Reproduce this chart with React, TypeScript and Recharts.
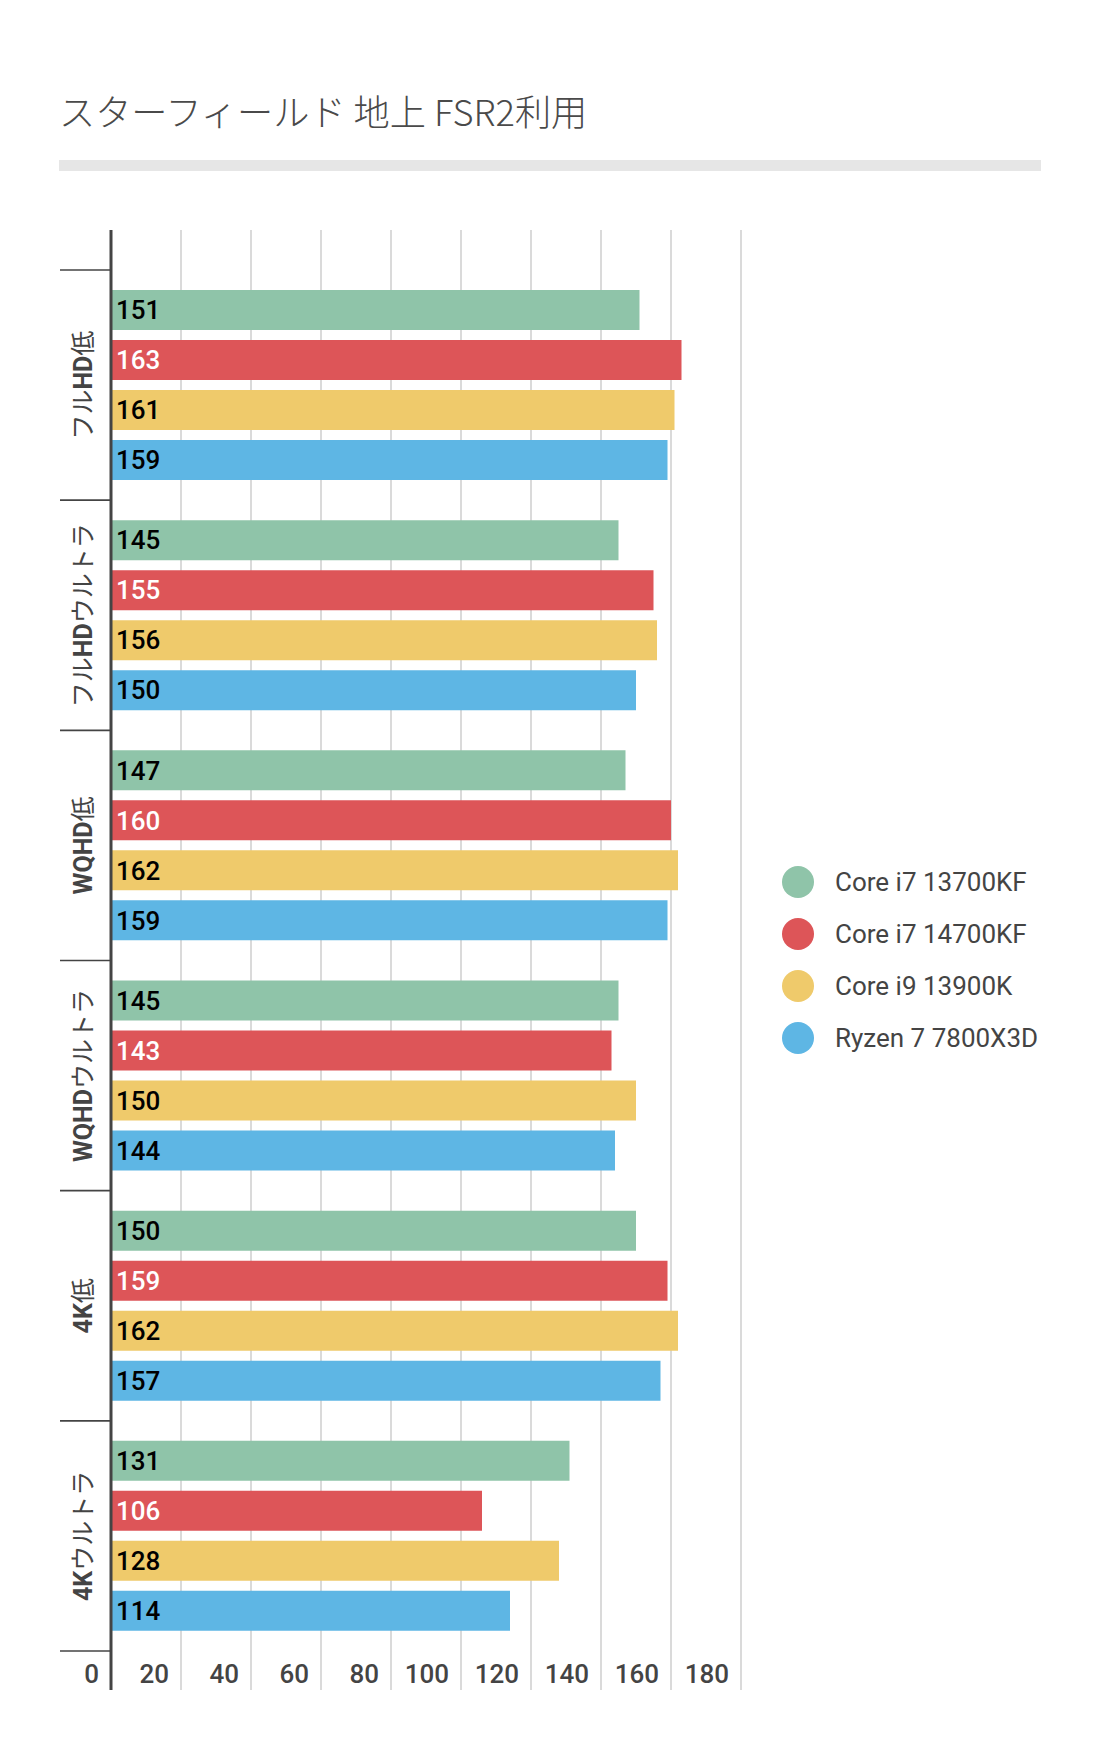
import React from 'react';
import { BarChart, Bar, XAxis, YAxis, CartesianGrid, Legend, LabelList } from 'recharts';

const title = 'スターフィールド 地上 FSR2利用';
const categories = ['フルHD低', 'フルHDウルトラ', 'WQHD低', 'WQHDウルトラ', '4K低', '4Kウルトラ'];
const seriesNames = ['Core i7 13700KF', 'Core i7 14700KF', 'Core i9 13900K', 'Ryzen 7 7800X3D'];
const i7_13700KF = [151, 145, 147, 145, 150, 131];
const i7_14700KF = [163, 155, 160, 143, 159, 106];
const i9_13900K = [161, 156, 162, 150, 162, 128];
const r7_7800X3D = [159, 150, 159, 144, 157, 114];
const xTicks = [0, 20, 40, 60, 80, 100, 120, 140, 160, 180];

const colors = ['#8FC4A9', '#DD5558', '#EFCA6B', '#5EB6E4'];
const labelColors = ['#000000', '#FFFFFF', '#000000', '#000000'];
const seriesKeys = ['s0', 's1', 's2', 's3'];
const seriesValues = [i7_13700KF, i7_14700KF, i9_13900K, r7_7800X3D];

const data = categories.map((name, i) => {
  const row: any = { name };
  seriesKeys.forEach((k, j) => {
    row[k] = seriesValues[j][i];
  });
  return row;
});

const LATIN = 'Roboto, "Noto Sans CJK JP", sans-serif';

function splitRuns(s: string) {
  const runs: { text: string; latin: boolean }[] = [];
  const re = /[A-Za-z0-9]+|[^A-Za-z0-9]+/g;
  let m: RegExpExecArray | null;
  while ((m = re.exec(s)) !== null) {
    runs.push({ text: m[0], latin: /^[A-Za-z0-9]/.test(m[0]) });
  }
  return runs;
}

const CategoryTick = (props: any) => {
  const { x, y, payload, index } = props;
  const off = payload && payload.offset != null ? payload.offset : 0;
  const bx = x - 19;
  const runs = splitRuns(String(payload.value));
  return (
    <g>
      <line x1={x - 51} x2={x} y1={y - off} y2={y - off} stroke="#444" strokeWidth={1.6} />
      {index === categories.length - 1 && (
        <line x1={x - 51} x2={x} y1={y + off} y2={y + off} stroke="#444" strokeWidth={1.6} />
      )}
      <text
        x={bx}
        y={y}
        transform={`rotate(-90 ${bx} ${y})`}
        textAnchor="middle"
        fontSize={25}
        fill="#444"
        fontFamily={LATIN}
      >
        {runs.map((r, i) => (
          <tspan key={i} fontWeight={r.latin ? 700 : 400}>
            {r.text}
          </tspan>
        ))}
      </text>
    </g>
  );
};

const ValueTick = (props: any) => {
  const { x, y, payload } = props;
  return (
    <text x={Number(x) - 12} y={Number(y) - 7} textAnchor="end" fontSize={26} fill="#444" fontFamily={LATIN} fontWeight={500}>
      {payload.value}
    </text>
  );
};

const makeLabel = (color: string) => (props: any) => {
  const { x, y, height, value } = props;
  return (
    <text x={Number(x) + 5} y={Number(y) + Number(height) / 2 + 9.2} fontSize={26} fill={color} fontFamily={LATIN} fontWeight={500}>
      {value}
    </text>
  );
};

const LegendContent = () => (
  <svg width={330} height={210} style={{ display: 'block' }}>
    {seriesNames.map((n, i) => (
      <g key={n}>
        <circle cx={28} cy={26 + i * 52} r={16} fill={colors[i]} />
        <text x={65} y={26 + i * 52 + 8.8} fontSize={26} fill="#444" fontFamily={LATIN}>
          {n}
        </text>
      </g>
    ))}
  </svg>
);

export default function App() {
  return (
    <div style={{ position: 'absolute', left: 0, top: 0, width: 1100, height: 1758, background: '#fff' }}>
      <svg width={1100} height={200} style={{ position: 'absolute', left: 0, top: 0 }}>
        <text x={59} y={126} fontSize={36.2} fill="#4a4a4a" fontFamily='"Noto Sans CJK JP", Roboto, sans-serif' fontWeight={300}>
          {title}
        </text>
        <rect x={59} y={160} width={982} height={11} fill="#E6E6E6" />
      </svg>
      <div style={{ position: 'absolute', left: 0, top: 0 }}>
        <BarChart
          width={1100}
          height={1758}
          data={data}
          layout="vertical"
          margin={{ top: 230, right: 359, bottom: 38, left: 59 }}
          barCategoryGap={20}
          barGap={10}
        >
          <CartesianGrid horizontal={false} stroke="#DADADA" strokeWidth={2} />
          <XAxis
            type="number"
            domain={[0, 180]}
            ticks={xTicks}
            interval={0}
            axisLine={false}
            tickLine={false}
            tickSize={0}
            tickMargin={0}
            height={30}
            tick={<ValueTick />}
          />
          <YAxis
            type="category"
            dataKey="name"
            width={52}
            padding={{ top: 40, bottom: 39 }}
            axisLine={{ stroke: '#444', strokeWidth: 3 }}
            tickLine={false}
            tickSize={0}
            tickMargin={0}
            interval={0}
            tick={<CategoryTick />}
          />
          <Legend
            layout="vertical"
            align="center"
            verticalAlign="middle"
            wrapperStyle={{ left: 770, top: 856, width: 330, height: 210 }}
            content={<LegendContent />}
          />
          {seriesKeys.map((k, j) => (
            <Bar key={k} dataKey={k} name={seriesNames[j]} fill={colors[j]} isAnimationActive={false}>
              <LabelList dataKey={k} content={makeLabel(labelColors[j])} />
            </Bar>
          ))}
        </BarChart>
      </div>
    </div>
  );
}
